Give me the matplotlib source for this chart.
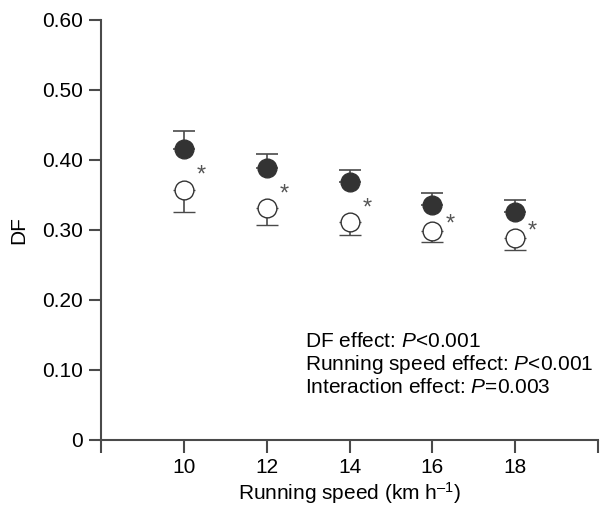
import matplotlib
matplotlib.use("Agg")
import matplotlib.pyplot as plt
import numpy as np

plt.rcParams['font.family'] = ['Liberation Sans', 'DejaVu Sans']
plt.rcParams['mathtext.fontset'] = 'custom'
plt.rcParams['mathtext.rm'] = 'Liberation Sans'
plt.rcParams['mathtext.it'] = 'Liberation Sans:italic'
plt.rcParams['mathtext.default'] = 'regular'

speeds = [10, 12, 14, 16, 18]
filled_vals = [0.416, 0.388, 0.368, 0.335, 0.325]
filled_err = [0.025, 0.021, 0.018, 0.018, 0.018]
open_vals = [0.357, 0.331, 0.311, 0.298, 0.289]
open_err = [0.031, 0.024, 0.019, 0.016, 0.018]

x_ticks = [8, 10, 12, 14, 16, 18, 20]
x_ticklabels = ['', '10', '12', '14', '16', '18', '']
y_ticks = [0, 0.10, 0.20, 0.30, 0.40, 0.50, 0.60]
y_ticklabels = ['0', '0.10', '0.20', '0.30', '0.40', '0.50', '0.60']
stats_lines = ['DF effect: $\\it{P}$<0.001',
               'Running speed effect: $\\it{P}$<0.001',
               'Interaction effect: $\\it{P}$=0.003']

fig = plt.figure(figsize=(6.10, 5.08), dpi=100)
ax = fig.add_axes([0.1656, 0.134, 0.815, 0.827])

line_col = '#4a4a4a'
fsz = 15

ax.errorbar(speeds, filled_vals, yerr=[np.zeros(5), filled_err], fmt='o',
            color='#333333', ms=13.5, mfc='#333333', mec='#333333',
            ecolor=line_col, elinewidth=1.2, capsize=8, capthick=1.2, zorder=3)
ax.errorbar(speeds, open_vals, yerr=[open_err, np.zeros(5)], fmt='o',
            color=line_col, ms=13.5, mfc='white', mec='#333333', mew=1.0,
            ecolor=line_col, elinewidth=1.2, capsize=8, capthick=1.2, zorder=3)

for s, f, o in zip(speeds, filled_vals, open_vals):
    ax.text(s + 0.42, (f + o) / 2 - 0.009, '*', ha='center', va='center',
            fontsize=17, color='#555555')

ax.set_xlim(8, 20)
ax.set_ylim(0, 0.60)
ax.set_xticks(x_ticks)
ax.set_xticklabels(x_ticklabels)
ax.set_yticks(y_ticks)
ax.set_yticklabels(y_ticklabels)

for sp in ['top', 'right']:
    ax.spines[sp].set_visible(False)
for sp in ['left', 'bottom']:
    ax.spines[sp].set_color(line_col)
    ax.spines[sp].set_linewidth(1.5)
ax.tick_params(axis='both', direction='out', length=9, width=1.5,
               color=line_col, labelsize=fsz, pad=4)

ax.set_xlabel('Running speed (km h$^{\u2013 1}$)', fontsize=fsz, labelpad=2)
ax.set_ylabel('DF', fontsize=fsz, labelpad=10)

ys = [0.140, 0.108, 0.075]
for t, yv in zip(stats_lines, ys):
    ax.text(12.92, yv, t, fontsize=fsz, ha='left', va='center')

fig.savefig('out.png', dpi=100)
